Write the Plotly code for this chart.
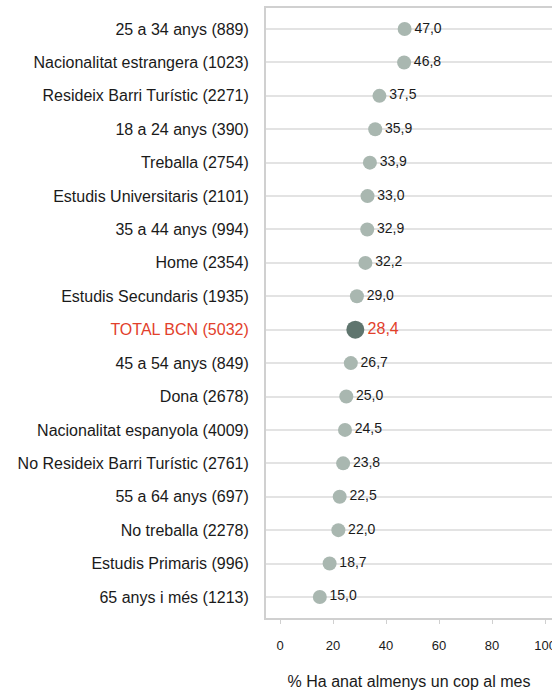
import plotly.graph_objects as go

# Categories (top to bottom) and percentage values
categories = [
    "25 a 34 anys (889)",
    "Nacionalitat estrangera (1023)",
    "Resideix Barri Turístic (2271)",
    "18 a 24 anys (390)",
    "Treballa (2754)",
    "Estudis Universitaris (2101)",
    "35 a 44 anys (994)",
    "Home (2354)",
    "Estudis Secundaris (1935)",
    "TOTAL BCN (5032)",
    "45 a 54 anys (849)",
    "Dona (2678)",
    "Nacionalitat espanyola (4009)",
    "No Resideix Barri Turístic (2761)",
    "55 a 64 anys (697)",
    "No treballa (2278)",
    "Estudis Primaris (996)",
    "65 anys i més (1213)",
]
values = [47.0, 46.8, 37.5, 35.9, 33.9, 33.0, 32.9, 32.2, 29.0, 28.4,
          26.7, 25.0, 24.5, 23.8, 22.5, 22.0, 18.7, 15.0]
total_label = "TOTAL BCN (5032)"
x_ticks = [0, 20, 40, 60, 80, 100]

RED = "#e2402b"
DOT = "#a9b7b0"
DOT_TOTAL = "#5f756e"
FONT = "Liberation Sans, Arial, sans-serif"

def fmt(v):
    return f"{v:.1f}".replace(".", ",")

pos = list(range(len(categories)))
is_total = [c == total_label for c in categories]

fig = go.Figure()

# Regular groups
fig.add_trace(go.Scatter(
    x=[v for v, t in zip(values, is_total) if not t],
    y=[p for p, t in zip(pos, is_total) if not t],
    mode="markers+text",
    marker=dict(size=14, color=DOT),
    text=[fmt(v) for v, t in zip(values, is_total) if not t],
    textposition="middle right",
    textfont=dict(family=FONT, size=14, color="#1a1a1a"),
    cliponaxis=False,
    showlegend=False,
    hoverinfo="skip",
))

# City total, highlighted
fig.add_trace(go.Scatter(
    x=[v for v, t in zip(values, is_total) if t],
    y=[p for p, t in zip(pos, is_total) if t],
    mode="markers+text",
    marker=dict(size=18, color=DOT_TOTAL),
    text=[fmt(v) for v, t in zip(values, is_total) if t],
    textposition="middle right",
    textfont=dict(family=FONT, size=16, color=RED),
    cliponaxis=False,
    showlegend=False,
    hoverinfo="skip",
))

tick_text = [f'<span style="color:{RED}">{c}</span>' if c == total_label else c
             for c in categories]

fig.update_layout(
    width=552, height=690,
    margin=dict(l=266, r=0, t=8, b=72),
    paper_bgcolor="white", plot_bgcolor="white",
    font=dict(family=FONT, size=16, color="#1a1a1a"),
    xaxis=dict(
        range=[-5.3, 102.6],
        tickvals=x_ticks,
        ticktext=[str(t) for t in x_ticks],
        showgrid=False, zeroline=False,
        showline=True, linecolor="#d0d0d0", linewidth=2, mirror=True,
        ticks="outside", ticklen=4, tickcolor="#d0d0d0", tickwidth=1,
        ticklabelstandoff=10,
        ticklabeloverflow="allow",
        tickfont=dict(family=FONT, size=13, color="#1a1a1a"),
        title=dict(text="% Ha anat almenys un cop al mes",
                   font=dict(family=FONT, size=16, color="#1a1a1a"),
                   standoff=28),
        automargin=False,
    ),
    yaxis=dict(
        range=[len(categories) - 1 + 0.63, -0.63],
        tickvals=pos,
        ticktext=tick_text,
        showgrid=True, gridcolor="#e3e3e3", gridwidth=1.5,
        zeroline=False,
        showline=True, linecolor="#d0d0d0", linewidth=2,
        ticks="", ticklabelstandoff=12,
        tickfont=dict(family=FONT, size=16, color="#1a1a1a"),
        automargin=False,
    ),
)

fig.write_html("out.html")
